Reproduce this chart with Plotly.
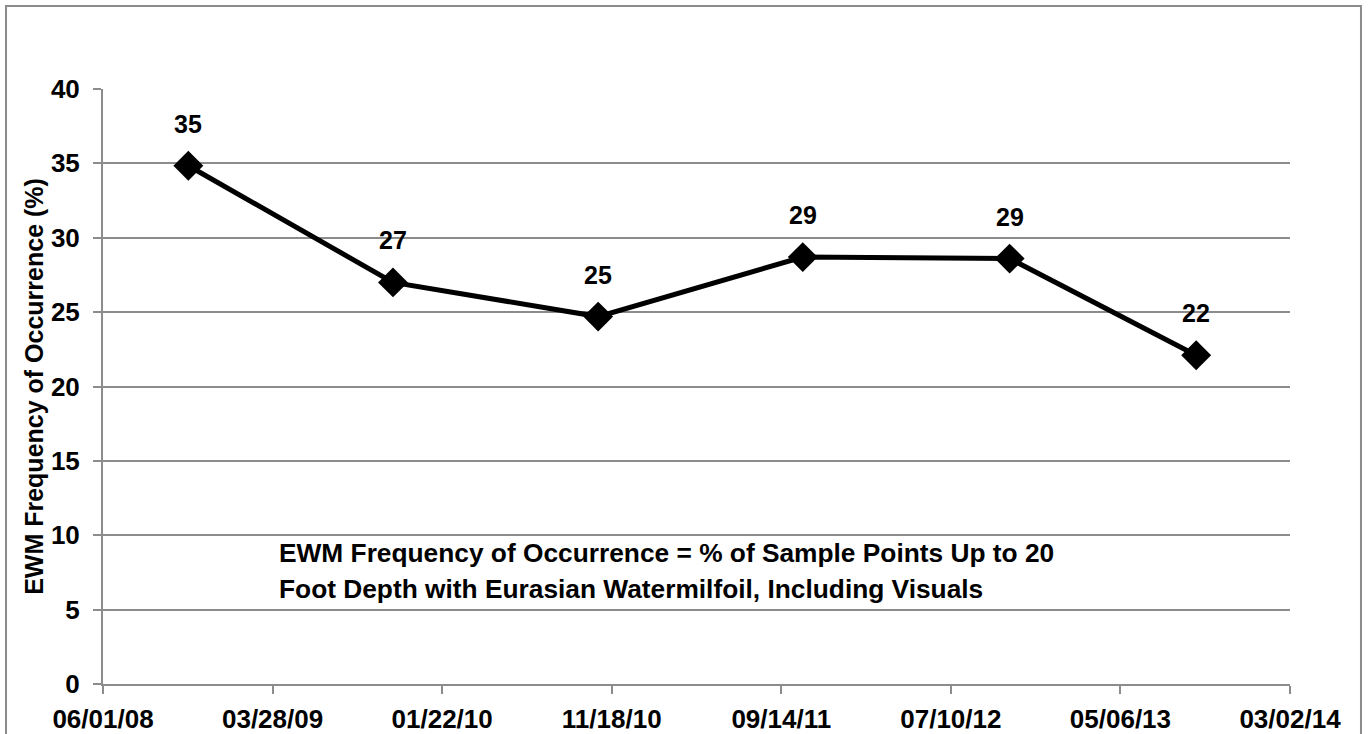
import plotly.graph_objects as go

# ---- data ----
survey_dates = ["2008-10-30", "2009-10-27", "2010-10-25", "2011-10-22", "2012-10-22", "2013-09-17"]
ewm_freq = [34.84, 27.0, 24.7, 28.7, 28.6, 22.1]
point_labels = ["35", "27", "25", "29", "29", "22"]

x_tick_dates = ["2008-06-01", "2009-03-28", "2010-01-22", "2010-11-18",
                "2011-09-14", "2012-07-10", "2013-05-06", "2014-03-02"]
x_tick_labels = ["06/01/08", "03/28/09", "01/22/10", "11/18/10",
                 "09/14/11", "07/10/12", "05/06/13", "03/02/14"]
y_ticks = [0, 5, 10, 15, 20, 25, 30, 35, 40]

note_lines = ["EWM Frequency of Occurrence = % of Sample Points Up to 20",
              "Foot Depth with Eurasian Watermilfoil, Including Visuals"]

FONT = "Liberation Sans, Arial, sans-serif"
GRID = "#8c8c8c"

fig = go.Figure()
fig.add_trace(go.Scatter(
    x=survey_dates, y=ewm_freq, mode="lines+markers",
    line=dict(color="black", width=5),
    marker=dict(symbol="diamond", size=23, color="black"),
    showlegend=False, hoverinfo="skip",
))

for d, v, t in zip(survey_dates, ewm_freq, point_labels):
    fig.add_annotation(x=d, y=v, text=f"<b>{t}</b>", showarrow=False,
                       yshift=42, xanchor="center", yanchor="middle",
                       font=dict(family=FONT, size=25, color="black"))

note_y = [0.2202, 0.1597]
for line, yy in zip(note_lines, note_y):
    fig.add_annotation(xref="paper", yref="paper", x=0.1465, y=yy,
                       text=f"<b>{line}</b>", showarrow=False,
                       xanchor="left", yanchor="middle",
                       font=dict(family=FONT, size=26.3, color="black"))

# outer chart border
fig.add_shape(type="rect", xref="paper", yref="paper",
              x0=-0.0817, x1=1.0598, y0=-0.12, y1=1.1395,
              line=dict(color="#8c8c8c", width=2), fillcolor="rgba(0,0,0,0)",
              layer="below")

fig.update_layout(
    width=1369, height=734,
    margin=dict(l=103, r=79, t=89, b=50),
    paper_bgcolor="white", plot_bgcolor="white",
    font=dict(family=FONT, size=25, color="black"),
    xaxis=dict(
        type="date", range=[x_tick_dates[0], x_tick_dates[-1]],
        tickmode="array", tickvals=x_tick_dates,
        ticktext=[f"<b>{t}</b>" for t in x_tick_labels],
        showgrid=False, showline=True, linecolor=GRID, linewidth=2,
        ticks="outside", ticklen=8, tickwidth=2, tickcolor=GRID,
        tickfont=dict(family=FONT, size=26, color="black"),
        ticklabelstandoff=3,
        zeroline=False, automargin=False,
    ),
    yaxis=dict(
        range=[0, 40], tickmode="array", tickvals=y_ticks,
        ticktext=[f"<b>{v}</b>" for v in y_ticks],
        showgrid=True, gridcolor=GRID, gridwidth=2,
        showline=True, linecolor=GRID, linewidth=2,
        ticks="outside", ticklen=8, tickwidth=2, tickcolor=GRID,
        tickfont=dict(family=FONT, size=26, color="black"),
        ticklabelstandoff=8,
        zeroline=False, automargin=False,
        title=dict(text="<b>EWM Frequency of Occurrence (%)</b>",
                   font=dict(family=FONT, size=25, color="black"),
                   standoff=0),
    ),
)

fig.write_html(
    "out.html",
    config={"displayModeBar": False},
    post_script="document.body.style.margin='0';document.body.style.overflow='hidden';",
)
